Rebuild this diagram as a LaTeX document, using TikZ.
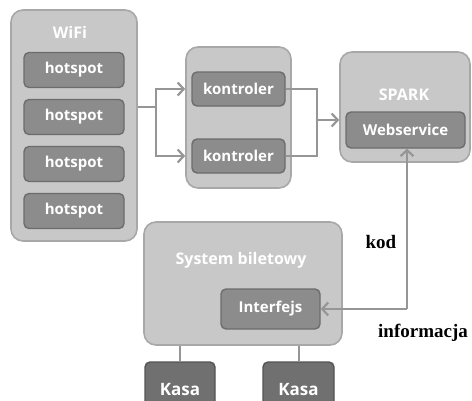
\documentclass[tikz,border=0pt]{standalone}
\usepackage{fontspec}
\newfontfamily\boxfont{Open Sans}
\newfontfamily\labelfont{Liberation Serif}
\usetikzlibrary{arrows.meta}
\definecolor{outerfill}{RGB}{200,200,200}
\definecolor{outerline}{RGB}{168,168,168}
\definecolor{innerfill}{RGB}{140,140,140}
\definecolor{innerline}{RGB}{108,108,108}
\definecolor{kasafill}{RGB}{112,112,112}
\definecolor{kasaline}{RGB}{84,84,84}
\definecolor{wiregray}{RGB}{150,150,150}
\begin{document}
\begin{tikzpicture}[x=1pt,y=-1pt]
		\tikzstyle{group}=[draw=outerline,fill=outerfill,line width=1.6pt,rounded corners=12pt,inner sep=0pt]
		\tikzstyle{part}=[draw=innerline,fill=innerfill,line width=1.4pt,rounded corners=5pt,inner sep=0pt,text=white,font=\boxfont\bfseries\fontsize{15}{17}\selectfont]
		\tikzstyle{kasa}=[part,draw=kasaline,fill=kasafill,font=\boxfont\bfseries\fontsize{17}{19}\selectfont]
		\tikzstyle{title}=[text=white,inner sep=0pt,font=\boxfont\bfseries\fontsize{16}{18}\selectfont]
		\tikzstyle{wire}=[draw=wiregray,line width=2.6pt]
		\tikzstyle{arr}=[wire,-{Straight Barb[length=6pt,width=13pt,line width=2.2pt]}]
		\tikzstyle{note}=[inner sep=0pt,font=\labelfont\bfseries\fontsize{19}{21}\selectfont]
		\useasboundingbox (0,0) rectangle (472,400);
		\clip (0,0) rectangle (472,400);
		% WiFi
		\node [group,minimum width=126pt,minimum height=231pt] (wifi) at (74,125.5) {};
		\node [title] (wifititle) at (70,32) {WiFi};
		\node [part,minimum width=100pt,minimum height=35pt] (hs1) at (74,70) {hotspot};
		\node [part,minimum width=100pt,minimum height=35pt] (hs2) at (74,117) {hotspot};
		\node [part,minimum width=100pt,minimum height=35pt] (hs3) at (74,164) {hotspot};
		\node [part,minimum width=100pt,minimum height=35pt] (hs4) at (74,211) {hotspot};
		% kontrolery
		\node [group,minimum width=105pt,minimum height=141pt] (kgroup) at (238.5,117.5) {};
		\node [part,minimum width=93pt,minimum height=34pt] (k1) at (238.5,89) {kontroler};
		\node [part,minimum width=93pt,minimum height=34pt] (k2) at (238.5,156) {kontroler};
		% SPARK
		\node [group,minimum width=130pt,minimum height=110pt] (spark) at (405,107) {};
		\node [title] (sparktitle) at (404,95) {SPARK};
		\node [part,minimum width=119pt,minimum height=36pt] (web) at (405.5,130) {Webservice};
		% System biletowy
		\node [group,minimum width=198pt,minimum height=123pt] (system) at (243,283.5) {};
		\node [title] (systemtitle) at (241,260) {System biletowy};
		\node [part,minimum width=99pt,minimum height=40pt] (iface) at (270.5,309) {Interfejs};
		\node [kasa,minimum width=70pt,minimum height=56pt] (kasa1) at (180,390) {Kasa};
		\node [kasa,minimum width=71pt,minimum height=56pt] (kasa2) at (298.5,390) {Kasa};
		% polaczenia
		\coordinate (fork) at (156,107);
		\coordinate (join) at (317,120);
		\coordinate (turn) at (407,309);
		\draw [wire] (wifi.east |- fork) -- (fork);
		\draw [arr] (fork) |- (kgroup.west |- k1);
		\draw [arr] (fork) |- (kgroup.west |- k2);
		\draw [wire] (k1.east) -| (join) |- (k2.east);
		\draw [arr] (join) -- (spark.west |- join);
		\draw [arr] (turn) -- (web.south -| turn);
		\draw [arr] (turn) -- (iface.east);
		\draw [wire,line width=2pt] (system.south -| kasa1) -- (kasa1.north);
		\draw [wire,line width=2pt] (system.south -| kasa2) -- (kasa2.north);
		\node [note] (kod) at (381,242) {kod};
		\node [note] (info) at (423,333) {informacja};
\end{tikzpicture}
\end{document}
